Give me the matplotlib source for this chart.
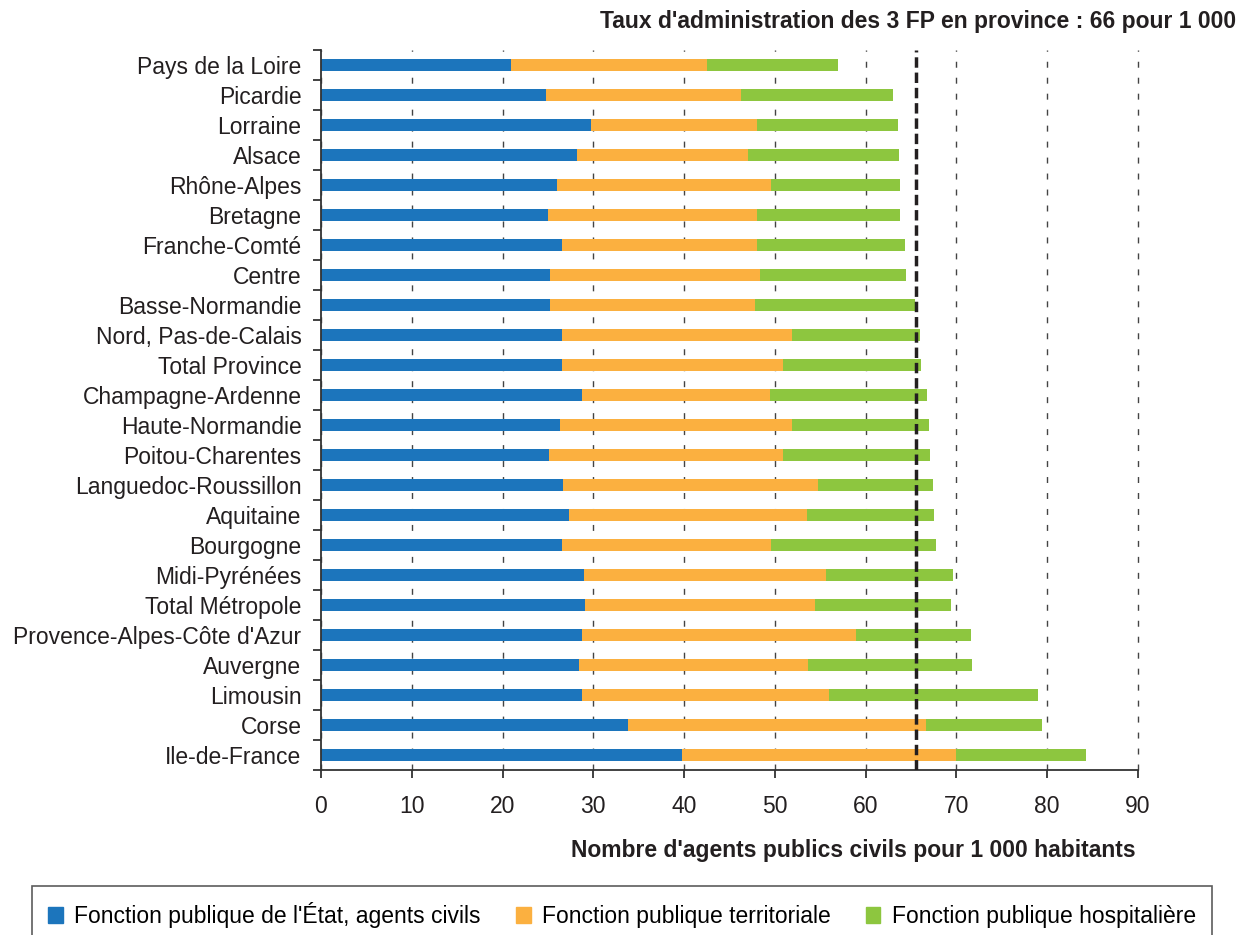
import numpy as np
import matplotlib.pyplot as plt
from matplotlib.patches import Patch

plt.rcParams['font.family'] = ['Liberation Sans', 'DejaVu Sans']

regions = ["Pays de la Loire", "Picardie", "Lorraine", "Alsace", "Rhône-Alpes",
           "Bretagne", "Franche-Comté", "Centre", "Basse-Normandie",
           "Nord, Pas-de-Calais", "Total Province", "Champagne-Ardenne",
           "Haute-Normandie", "Poitou-Charentes", "Languedoc-Roussillon",
           "Aquitaine", "Bourgogne", "Midi-Pyrénées", "Total Métropole",
           "Provence-Alpes-Côte d'Azur", "Auvergne", "Limousin", "Corse",
           "Ile-de-France"]
etat = [20.9, 24.8, 29.7, 28.2, 26.0, 25.0, 26.5, 25.2, 25.2, 26.5, 26.5, 28.8,
        26.3, 25.1, 26.7, 27.3, 26.5, 29.0, 29.1, 28.8, 28.4, 28.8, 33.8, 39.8]
territoriale = [21.6, 21.5, 18.3, 18.8, 23.6, 23.0, 21.5, 23.2, 22.6, 25.4, 24.4, 20.7,
                25.6, 25.8, 28.0, 26.2, 23.1, 26.6, 25.3, 30.1, 25.2, 27.2, 32.8, 30.1]
hospitaliere = [14.5, 16.7, 15.6, 16.7, 14.2, 15.8, 16.3, 16.0, 17.6, 14.1, 15.2, 17.3,
                15.1, 16.2, 12.7, 14.0, 18.1, 14.0, 15.0, 12.7, 18.1, 23.0, 12.8, 14.4]
taux_province = 65.5

c_etat = '#1c75bc'
c_terr = '#fbb040'
c_hosp = '#8dc63f'

fig = plt.figure(figsize=(12.47, 9.35), dpi=100)
ax = fig.add_axes([0.2574, 0.1765, 0.6552, 0.77])

y = np.arange(len(regions))
etat = np.array(etat)
territoriale = np.array(territoriale)
hospitaliere = np.array(hospitaliere)

ax.barh(y, etat, height=0.4, color=c_etat, zorder=2)
ax.barh(y, territoriale, left=etat, height=0.4, color=c_terr, zorder=2)
ax.barh(y, hospitaliere, left=etat + territoriale, height=0.4, color=c_hosp, zorder=2)

# ligne du taux province
ax.axvline(taux_province, color='#231f20', lw=2.5, ls=(0, (3, 1.4)), zorder=3)

ax.set_xlim(0, 90)
ax.set_ylim(len(regions) - 0.5, -0.5)
ax.set_xticks(np.arange(0, 91, 10))
ax.set_yticks(y)
ax.set_yticklabels(regions)
ax.set_yticks(np.arange(-0.5, len(regions), 1), minor=True)
ax.tick_params(axis='y', which='major', length=0, pad=14, labelsize=16.5, colors='#231f20')
ax.tick_params(axis='y', which='minor', length=6, width=1.3, color='#333333')
ax.tick_params(axis='x', length=5.8, width=1.3, color='#333333', labelsize=16.5, pad=12,
               labelcolor='#231f20')

ax.xaxis.grid(True, color='#444444', lw=1, ls=(0, (4.3, 7.2)), zorder=0)
for gl in ax.get_xgridlines():
    gl.set_clip_on(False)
for s in ['top', 'right']:
    ax.spines[s].set_visible(False)
ax.spines['left'].set_color('#333333')
ax.spines['bottom'].set_color('#333333')
ax.spines['left'].set_linewidth(1.3)
ax.spines['bottom'].set_linewidth(1.3)

fig.text(0.991, 0.977, "Taux d'administration des 3 FP en province : 66 pour 1 000",
         ha='right', va='center', fontsize=16.5, fontweight='bold', color='#231f20')
fig.text(0.911, 0.09, "Nombre d'agents publics civils pour 1 000 habitants",
         ha='right', va='center', fontsize=16.5, fontweight='bold', color='#231f20')

handles = [Patch(color=c_etat, label="Fonction publique de l'État, agents civils"),
           Patch(color=c_terr, label="Fonction publique territoriale"),
           Patch(color=c_hosp, label="Fonction publique hospitalière")]
leg = fig.legend(handles=handles, loc='upper left', bbox_to_anchor=(0.0257, 0.0524, 0.9463, 0),
                 mode='expand', ncol=3, fontsize=16.5, frameon=True, fancybox=False,
                 handlelength=0.65, handleheight=0.65, handletextpad=0.5,
                 borderpad=0.7, borderaxespad=0, columnspacing=1.2)
leg.get_frame().set_edgecolor('#333333')
leg.get_frame().set_linewidth(1.2)

fig.savefig('out.png', dpi=100)
